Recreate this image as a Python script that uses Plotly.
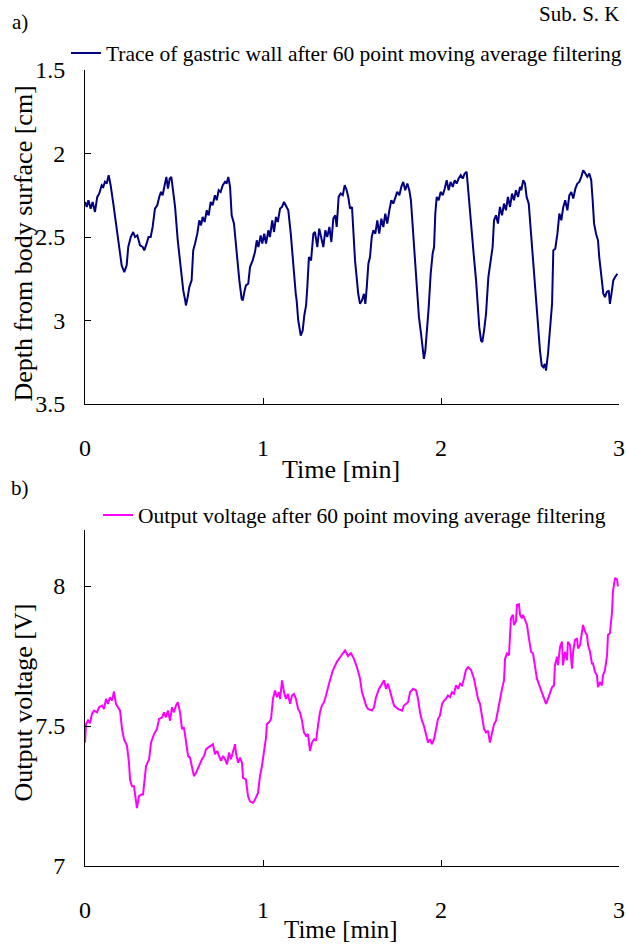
import plotly.graph_objects as go

# ---------------- data ----------------
legend_a = "Trace of gastric wall after 60 point moving average filtering"
legend_b = "Output voltage after 60 point moving average filtering"
x_ticks = [0, 1, 2, 3]
y_ticks_a = [1.5, 2, 2.5, 3, 3.5]
y_ticktext_a = ["1.5", "2", "2.5", "3", "3.5"]
y_ticks_b = [7, 7.5, 8]
y_ticktext_b = ["7", "7.5", "8"]

time_a = [0.000, 0.010, 0.019, 0.032, 0.043, 0.056, 0.069, 0.080, 0.094, 0.103,
          0.112, 0.122, 0.133, 0.144, 0.159, 0.178, 0.193, 0.206, 0.221, 0.234,
          0.243, 0.257, 0.271, 0.281, 0.294, 0.309, 0.324, 0.333, 0.346, 0.357,
          0.369, 0.380, 0.393, 0.406, 0.417, 0.427, 0.436, 0.446, 0.457, 0.466,
          0.476, 0.485, 0.493, 0.506, 0.521, 0.538, 0.552, 0.563, 0.567, 0.577,
          0.586, 0.599, 0.608, 0.618, 0.631, 0.642, 0.652, 0.661, 0.672, 0.684,
          0.695, 0.706, 0.717, 0.730, 0.740, 0.751, 0.762, 0.774, 0.787, 0.796,
          0.805, 0.815, 0.824, 0.837, 0.852, 0.867, 0.880, 0.886, 0.895, 0.904,
          0.917, 0.927, 0.942, 0.955, 0.965, 0.974, 0.987, 0.996, 1.007, 1.017,
          1.030, 1.039, 1.052, 1.062, 1.073, 1.083, 1.096, 1.107, 1.118, 1.129,
          1.142, 1.156, 1.170, 1.184, 1.189, 1.198, 1.212, 1.223, 1.232, 1.242,
          1.249, 1.258, 1.270, 1.283, 1.292, 1.305, 1.316, 1.328, 1.339, 1.350,
          1.361, 1.373, 1.384, 1.395, 1.406, 1.414, 1.425, 1.436, 1.448, 1.459,
          1.470, 1.479, 1.489, 1.500, 1.507, 1.517, 1.526, 1.535, 1.545, 1.556,
          1.567, 1.575, 1.583, 1.592, 1.601, 1.611, 1.620, 1.631, 1.642, 1.653,
          1.665, 1.676, 1.687, 1.698, 1.710, 1.721, 1.732, 1.743, 1.754, 1.766,
          1.777, 1.788, 1.799, 1.811, 1.822, 1.831, 1.841, 1.850, 1.860, 1.867,
          1.876, 1.888, 1.897, 1.904, 1.912, 1.921, 1.931, 1.942, 1.953, 1.961,
          1.968, 1.976, 1.987, 1.998, 2.010, 2.021, 2.032, 2.043, 2.054, 2.066,
          2.077, 2.088, 2.099, 2.111, 2.122, 2.133, 2.144, 2.153, 2.163, 2.174,
          2.185, 2.197, 2.204, 2.215, 2.225, 2.232, 2.242, 2.253, 2.266, 2.275,
          2.290, 2.298, 2.309, 2.320, 2.331, 2.343, 2.354, 2.365, 2.376, 2.388,
          2.399, 2.410, 2.421, 2.433, 2.444, 2.451, 2.462, 2.472, 2.481, 2.493,
          2.504, 2.515, 2.526, 2.534, 2.545, 2.556, 2.566, 2.575, 2.583, 2.590,
          2.601, 2.612, 2.624, 2.631, 2.642, 2.654, 2.665, 2.676, 2.687, 2.698,
          2.710, 2.721, 2.732, 2.743, 2.755, 2.766, 2.777, 2.788, 2.799, 2.811,
          2.822, 2.833, 2.844, 2.852, 2.860, 2.871, 2.882, 2.889, 2.901, 2.912,
          2.921, 2.931, 2.942, 2.949, 2.959, 2.968, 2.978, 2.991]

depth_a = [2.29, 2.32, 2.28, 2.33, 2.29, 2.35, 2.26, 2.24, 2.19, 2.20,
           2.17, 2.18, 2.13, 2.19, 2.30, 2.46, 2.59, 2.67, 2.71, 2.67,
           2.56, 2.50, 2.47, 2.50, 2.49, 2.55, 2.56, 2.58, 2.54, 2.50,
           2.50, 2.44, 2.33, 2.31, 2.26, 2.23, 2.25, 2.20, 2.14, 2.21,
           2.15, 2.14, 2.21, 2.32, 2.52, 2.70, 2.82, 2.88, 2.91, 2.86,
           2.80, 2.76, 2.58, 2.54, 2.48, 2.40, 2.43, 2.38, 2.41, 2.34,
           2.37, 2.29, 2.31, 2.25, 2.28, 2.22, 2.23, 2.19, 2.17, 2.18,
           2.14, 2.20, 2.37, 2.42, 2.60, 2.76, 2.87, 2.88, 2.83, 2.79,
           2.78, 2.68, 2.64, 2.59, 2.52, 2.56, 2.49, 2.54, 2.48, 2.54,
           2.46, 2.50, 2.40, 2.47, 2.38, 2.41, 2.33, 2.32, 2.29, 2.31,
           2.34, 2.48, 2.68, 2.84, 2.88, 3.00, 3.09, 3.06, 2.97, 2.91,
           2.80, 2.62, 2.64, 2.48, 2.47, 2.56, 2.45, 2.52, 2.56, 2.46,
           2.50, 2.44, 2.53, 2.39, 2.37, 2.44, 2.26, 2.24, 2.25, 2.19,
           2.22, 2.26, 2.33, 2.32, 2.46, 2.64, 2.74, 2.84, 2.90, 2.88,
           2.84, 2.90, 2.80, 2.66, 2.62, 2.50, 2.46, 2.48, 2.40, 2.48,
           2.39, 2.44, 2.36, 2.42, 2.34, 2.28, 2.30, 2.26, 2.23, 2.25,
           2.20, 2.17, 2.22, 2.18, 2.22, 2.28, 2.44, 2.62, 2.76, 2.88,
           2.98, 3.08, 3.16, 3.23, 3.18, 3.06, 2.92, 2.72, 2.60, 2.56,
           2.36, 2.26, 2.28, 2.23, 2.25, 2.21, 2.16, 2.22, 2.17, 2.20,
           2.16, 2.18, 2.15, 2.13, 2.15, 2.12, 2.11, 2.22, 2.36, 2.50,
           2.62, 2.76, 2.88, 3.04, 3.12, 3.13, 3.06, 2.96, 2.74, 2.66,
           2.56, 2.40, 2.37, 2.42, 2.32, 2.37, 2.30, 2.34, 2.26, 2.32,
           2.24, 2.28, 2.22, 2.26, 2.20, 2.22, 2.16, 2.18, 2.26, 2.30,
           2.46, 2.60, 2.76, 2.88, 3.04, 3.18, 3.27, 3.28, 3.26, 3.30,
           3.20, 3.04, 2.90, 2.58, 2.57, 2.48, 2.36, 2.40, 2.32, 2.28,
           2.34, 2.25, 2.23, 2.27, 2.21, 2.18, 2.17, 2.14, 2.10, 2.12,
           2.14, 2.12, 2.16, 2.28, 2.42, 2.48, 2.52, 2.62, 2.76, 2.84,
           2.86, 2.83, 2.82, 2.90, 2.83, 2.76, 2.74, 2.72]

time_b = [0.000, 0.006, 0.017, 0.028, 0.039, 0.051, 0.067, 0.079, 0.096, 0.107,
          0.118, 0.129, 0.140, 0.152, 0.163, 0.174, 0.185, 0.197, 0.208, 0.219,
          0.236, 0.247, 0.253, 0.264, 0.275, 0.287, 0.292, 0.303, 0.315, 0.326,
          0.337, 0.343, 0.360, 0.371, 0.388, 0.404, 0.416, 0.433, 0.444, 0.455,
          0.466, 0.478, 0.489, 0.500, 0.511, 0.522, 0.534, 0.545, 0.556, 0.567,
          0.579, 0.590, 0.601, 0.612, 0.624, 0.635, 0.646, 0.657, 0.669, 0.680,
          0.691, 0.708, 0.719, 0.730, 0.742, 0.753, 0.764, 0.775, 0.787, 0.798,
          0.809, 0.820, 0.831, 0.843, 0.848, 0.860, 0.871, 0.882, 0.888, 0.904,
          0.916, 0.927, 0.944, 0.955, 0.972, 0.983, 0.994, 1.006, 1.017, 1.022,
          1.034, 1.045, 1.056, 1.067, 1.079, 1.090, 1.096, 1.107, 1.118, 1.129,
          1.140, 1.152, 1.163, 1.174, 1.185, 1.197, 1.208, 1.219, 1.230, 1.242,
          1.253, 1.264, 1.275, 1.287, 1.298, 1.309, 1.320, 1.331, 1.343, 1.354,
          1.365, 1.376, 1.393, 1.416, 1.438, 1.461, 1.478, 1.494, 1.511, 1.528,
          1.545, 1.556, 1.579, 1.590, 1.612, 1.624, 1.635, 1.652, 1.669, 1.680,
          1.691, 1.702, 1.713, 1.725, 1.736, 1.758, 1.781, 1.792, 1.803, 1.815,
          1.826, 1.843, 1.860, 1.871, 1.882, 1.893, 1.904, 1.916, 1.927, 1.938,
          1.949, 1.961, 1.972, 1.983, 1.994, 2.006, 2.017, 2.028, 2.039, 2.051,
          2.062, 2.073, 2.084, 2.096, 2.107, 2.118, 2.129, 2.140, 2.152, 2.169,
          2.185, 2.197, 2.208, 2.219, 2.230, 2.242, 2.253, 2.264, 2.275, 2.287,
          2.298, 2.309, 2.320, 2.331, 2.343, 2.354, 2.360, 2.371, 2.382, 2.393,
          2.404, 2.410, 2.421, 2.427, 2.438, 2.444, 2.455, 2.461, 2.472, 2.483,
          2.494, 2.506, 2.517, 2.528, 2.539, 2.556, 2.567, 2.579, 2.590, 2.601,
          2.612, 2.624, 2.635, 2.640, 2.652, 2.657, 2.669, 2.680, 2.685, 2.697,
          2.708, 2.713, 2.725, 2.736, 2.742, 2.753, 2.764, 2.770, 2.781, 2.792,
          2.798, 2.809, 2.820, 2.826, 2.837, 2.848, 2.854, 2.865, 2.876, 2.882,
          2.893, 2.904, 2.910, 2.921, 2.933, 2.938, 2.949, 2.961, 2.966, 2.978,
          2.989, 2.994]

volt_b = [7.440, 7.507, 7.520, 7.510, 7.543, 7.555, 7.549, 7.567, 7.573, 7.561,
          7.597, 7.579, 7.603, 7.591, 7.623, 7.579, 7.567, 7.555, 7.489, 7.453,
          7.429, 7.369, 7.309, 7.285, 7.285, 7.237, 7.207, 7.249, 7.255, 7.255,
          7.309, 7.357, 7.381, 7.441, 7.471, 7.489, 7.525, 7.531, 7.549, 7.531,
          7.555, 7.519, 7.567, 7.549, 7.573, 7.585, 7.549, 7.489, 7.495, 7.441,
          7.393, 7.387, 7.357, 7.321, 7.333, 7.351, 7.363, 7.381, 7.393, 7.417,
          7.423, 7.429, 7.435, 7.399, 7.411, 7.393, 7.375, 7.393, 7.381, 7.363,
          7.405, 7.381, 7.411, 7.435, 7.405, 7.369, 7.387, 7.369, 7.315, 7.309,
          7.249, 7.231, 7.225, 7.237, 7.261, 7.321, 7.357, 7.417, 7.459, 7.507,
          7.513, 7.525, 7.597, 7.627, 7.603, 7.621, 7.597, 7.663, 7.621, 7.597,
          7.615, 7.579, 7.609, 7.615, 7.597, 7.561, 7.549, 7.519, 7.477, 7.465,
          7.471, 7.411, 7.441, 7.453, 7.447, 7.501, 7.549, 7.573, 7.585, 7.609,
          7.639, 7.663, 7.700, 7.730, 7.750, 7.770, 7.750, 7.760, 7.740, 7.710,
          7.670, 7.621, 7.573, 7.561, 7.555, 7.567, 7.603, 7.633, 7.651, 7.663,
          7.633, 7.651, 7.627, 7.603, 7.573, 7.561, 7.555, 7.573, 7.579, 7.585,
          7.621, 7.633, 7.627, 7.597, 7.549, 7.519, 7.501, 7.471, 7.441, 7.453,
          7.435, 7.453, 7.489, 7.525, 7.537, 7.579, 7.591, 7.597, 7.609, 7.603,
          7.621, 7.615, 7.645, 7.633, 7.651, 7.645, 7.669, 7.700, 7.710, 7.700,
          7.670, 7.633, 7.597, 7.579, 7.537, 7.489, 7.477, 7.483, 7.441, 7.477,
          7.507, 7.519, 7.561, 7.597, 7.633, 7.663, 7.741, 7.759, 7.753, 7.885,
          7.897, 7.861, 7.873, 7.933, 7.935, 7.897, 7.885, 7.897, 7.879, 7.861,
          7.813, 7.765, 7.759, 7.717, 7.669, 7.639, 7.621, 7.603, 7.579, 7.597,
          7.621, 7.639, 7.645, 7.717, 7.747, 7.717, 7.783, 7.801, 7.717, 7.765,
          7.735, 7.801, 7.789, 7.705, 7.765, 7.807, 7.813, 7.777, 7.789, 7.843,
          7.861, 7.837, 7.825, 7.789, 7.765, 7.723, 7.723, 7.693, 7.681, 7.639,
          7.657, 7.645, 7.681, 7.699, 7.753, 7.825, 7.831, 7.909, 7.981, 8.029,
          8.023, 7.999]

# ---------------- figure ----------------
FONT = "Liberation Serif, Times New Roman, serif"

fig = go.Figure()
fig.add_trace(go.Scatter(x=time_a, y=depth_a, mode="lines", name=legend_a,
                         line=dict(color="#000080", width=2),
                         xaxis="x", yaxis="y", legend="legend"))
fig.add_trace(go.Scatter(x=time_b, y=volt_b, mode="lines", name=legend_b,
                         line=dict(color="#FF00FF", width=2),
                         xaxis="x2", yaxis="y2", legend="legend2"))

axis_common = dict(showline=True, linecolor="black", linewidth=1,
                   ticks="inside", ticklen=6, tickcolor="black",
                   showgrid=False, zeroline=False,
                   tickfont=dict(family=FONT, size=24, color="black"))

fig.update_layout(
    width=626, height=946,
    margin=dict(l=85, r=7, t=70, b=80, autoexpand=False),
    paper_bgcolor="white", plot_bgcolor="white",
    font=dict(family=FONT, color="black"),
    hovermode=False,
    xaxis=dict(domain=[0, 1], anchor="y", range=[0, 3], tickvals=x_ticks,
               ticklabelstandoff=22, **axis_common),
    yaxis=dict(domain=[0.5804, 1], anchor="x", range=[3.5, 1.5],
               tickvals=y_ticks_a, ticktext=y_ticktext_a,
               ticklabelstandoff=14, **axis_common),
    xaxis2=dict(domain=[0, 1], anchor="y2", range=[0, 3], tickvals=x_ticks,
                ticklabelstandoff=22, **axis_common),
    yaxis2=dict(domain=[0, 0.4221], anchor="x2", range=[7, 8.2],
                tickvals=y_ticks_b, ticktext=y_ticktext_b,
                ticklabelstandoff=14, **axis_common),
    legend=dict(x=-0.0356, y=1.0214, xanchor="left", yanchor="middle",
                bgcolor="rgba(0,0,0,0)", font=dict(family=FONT, size=21.5)),
    legend2=dict(x=0.0243, y=0.4410, xanchor="left", yanchor="middle",
                 bgcolor="rgba(0,0,0,0)", font=dict(family=FONT, size=21.5)),
    showlegend=True,
)

ann = [
    dict(text="a)", x=-0.1217, y=1.0603, font_size=21),
    dict(text="b)", x=-0.1217, y=0.4749, font_size=21),
    dict(text="Sub. S. K", x=1.0056, y=1.0704, xanchor="right", font_size=21),
    dict(text="Depth from body surface [cm]", x=-0.1152, y=0.7827, textangle=-90, font_size=26),
    dict(text="Output voltage [V]", x=-0.1152, y=0.2060, textangle=-90, font_size=26),
    dict(text="Time [min]", x=0.4794, y=0.4975, font_size=26),
    dict(text="Time [min]", x=0.4794, y=-0.0792, font_size=25),
]
for a in ann:
    fs = a.pop("font_size")
    fig.add_annotation(xref="paper", yref="paper", showarrow=False,
                       xanchor=a.pop("xanchor", "center"), yanchor="middle",
                       font=dict(family=FONT, size=fs, color="black"), **a)

# remove the browser's default 8 px body margin so the figure fills the window
fig.write_html("out.html",
               config={"displayModeBar": False},
               post_script="document.body.style.margin='0';"
                           "document.body.style.overflow='hidden';")
